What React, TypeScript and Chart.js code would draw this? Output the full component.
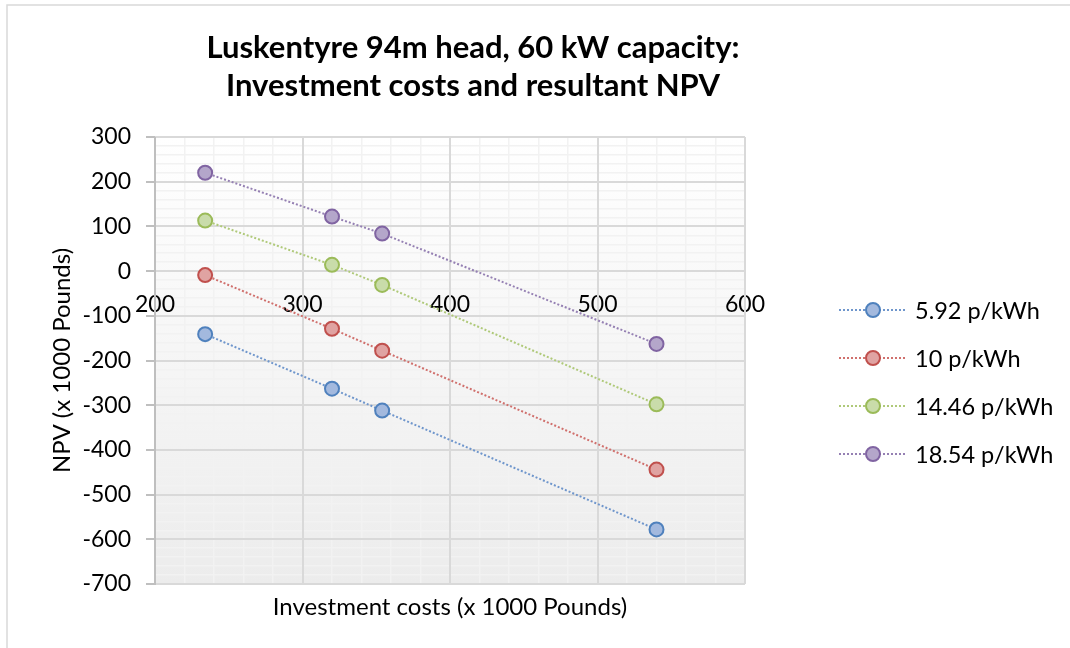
import React, { useEffect, useRef } from "react";
import { Chart, registerables } from "chart.js";

Chart.register(...registerables);

// ---- data ----
const investmentCosts = [234, 320, 354, 540];
const seriesNames = ["5.92 p/kWh", "10 p/kWh", "14.46 p/kWh", "18.54 p/kWh"];
const npv592 = [-141, -263, -312, -578];
const npv10 = [-9, -129, -178, -444];
const npv1446 = [113, 14, -31, -298];
const npv1854 = [220, 122, 84, -163];
const titleLines = ["Luskentyre 94m head, 60 kW capacity:", "Investment costs and resultant NPV"];
const xAxisTitle = "Investment costs (x 1000 Pounds)";
const yAxisTitle = "NPV (x 1000 Pounds)";
const xRange = [200, 600];
const yRange = [-700, 300];
const majorStep = 100;
const minorStep = 20;

const seriesValues = [npv592, npv10, npv1446, npv1854];
const borderColors = ["#4f81bd", "#c0504d", "#9bbb59", "#8064a2"];
const fillColors = ["#a3b9de", "#e0a3a2", "#c9dcaa", "#b4a6ca"];
const lineColors = ["#6f96cc", "#d0706d", "#afc979", "#9580b3"];

const FONT = "Lato, 'Open Sans', sans-serif";

const isMajor = (v: number) => Math.abs(Math.round(v)) % majorStep === 0;

const decorPlugin = {
  id: "decor",
  beforeDraw(chart: any) {
    const { ctx, chartArea, width, height } = chart;
    ctx.save();
    ctx.fillStyle = "#ffffff";
    ctx.fillRect(0, 0, width, height);
    const g = ctx.createLinearGradient(0, chartArea.top, 0, chartArea.bottom);
    g.addColorStop(0, "#ffffff");
    g.addColorStop(1, "#ececec");
    ctx.fillStyle = g;
    ctx.fillRect(chartArea.left, chartArea.top, chartArea.right - chartArea.left, chartArea.bottom - chartArea.top);
    ctx.strokeStyle = "#d9d9d9";
    ctx.lineWidth = 1.5;
    ctx.beginPath();
    ctx.moveTo(7, height);
    ctx.lineTo(7, 5);
    ctx.lineTo(width, 5);
    ctx.stroke();
    ctx.restore();
  },
  beforeDatasetsDraw(chart: any) {
    // redraw major gridlines above the minor ones
    const { ctx, chartArea, scales } = chart;
    ctx.save();
    ctx.strokeStyle = "#d9d9d9";
    ctx.lineWidth = 2;
    ctx.beginPath();
    for (let v = xRange[0]; v <= xRange[1]; v += majorStep) {
      const px = Math.round(scales.x.getPixelForValue(v));
      ctx.moveTo(px, chartArea.top);
      ctx.lineTo(px, chartArea.bottom);
    }
    for (let v = yRange[0]; v <= yRange[1]; v += majorStep) {
      const py = Math.round(scales.y.getPixelForValue(v));
      ctx.moveTo(chartArea.left, py);
      ctx.lineTo(chartArea.right, py);
    }
    ctx.stroke();
    ctx.strokeStyle = "#bfbfbf";
    ctx.beginPath();
    const lx = Math.round(scales.x.getPixelForValue(xRange[0]));
    ctx.moveTo(lx, chartArea.top);
    ctx.lineTo(lx, chartArea.bottom + 1);
    ctx.stroke();
    ctx.restore();
  },
  afterDraw(chart: any) {
    const { ctx, chartArea } = chart;
    ctx.save();
    // title
    ctx.fillStyle = "#000";
    ctx.font = `bold 31px ${FONT}`;
    ctx.textAlign = "center";
    ctx.textBaseline = "alphabetic";
    titleLines.forEach((t, i) => ctx.fillText(t, 473, 58 + i * 38));
    // legend
    const x0 = chartArea.right + 94;
    chart.data.datasets.forEach((ds: any, i: number) => {
      const y = chartArea.top + 173 + i * 48;
      ctx.strokeStyle = lineColors[i];
      ctx.lineWidth = 2;
      ctx.setLineDash([2, 2]);
      ctx.beginPath();
      ctx.moveTo(x0, y);
      ctx.lineTo(x0 + 68, y);
      ctx.stroke();
      ctx.setLineDash([]);
      ctx.beginPath();
      ctx.arc(x0 + 34, y, 7, 0, Math.PI * 2);
      ctx.fillStyle = fillColors[i];
      ctx.fill();
      ctx.strokeStyle = borderColors[i];
      ctx.lineWidth = 2;
      ctx.stroke();
      ctx.fillStyle = "#000";
      ctx.font = `23.5px ${FONT}`;
      ctx.textAlign = "left";
      ctx.textBaseline = "middle";
      ctx.fillText(ds.label, x0 + 76, y + 1);
    });
    ctx.restore();
  },
};

export default function App() {
  const ref = useRef<HTMLCanvasElement | null>(null);
  useEffect(() => {
    if (!ref.current) return;
    const datasets = seriesValues.map((vals, i) => ({
      label: seriesNames[i],
      data: investmentCosts.map((x, j) => ({ x, y: vals[j] })),
      showLine: true,
      borderColor: lineColors[i],
      borderWidth: 2,
      borderDash: [2, 2],
      pointRadius: 7,
      pointHoverRadius: 7,
      pointBackgroundColor: fillColors[i],
      pointBorderColor: borderColors[i],
      pointBorderWidth: 2,
      xAxisID: "x",
      yAxisID: "y",
    }));
    const chart = new Chart(ref.current, {
      type: "scatter",
      data: { datasets },
      plugins: [decorPlugin],
      options: {
        animation: false,
        responsive: false,
        layout: { padding: { left: 48, top: 137, right: 325, bottom: 0 } },
        plugins: { legend: { display: false }, title: { display: false }, tooltip: { enabled: false } },
        scales: {
          x: {
            type: "linear",
            position: { y: 0 } as any,
            min: xRange[0],
            max: xRange[1],
            ticks: {
              stepSize: minorStep,
              autoSkip: false,
              maxRotation: 0,
              minRotation: 0,
              padding: 20,
              color: "#000",
              font: { family: FONT, size: 23 },
              callback: (v: any) => (isMajor(Number(v)) ? String(Math.round(Number(v))) : ""),
            },
            grid: {
              drawTicks: false,
              color: "#f2f2f2",
              lineWidth: 1.5,
            },
            border: { display: false },
          },
          xb: {
            type: "linear",
            position: "bottom",
            min: xRange[0],
            max: xRange[1],
            ticks: { display: false },
            grid: { display: false },
            border: { display: false },
            title: {
              display: true,
              text: xAxisTitle,
              color: "#000",
              font: { family: FONT, size: 24 },
              padding: { top: 0, bottom: 26 },
            },
            afterFit: (s: any) => {
              s.height = 64;
            },
          },
          y: {
            type: "linear",
            position: "left",
            min: yRange[0],
            max: yRange[1],
            ticks: {
              stepSize: minorStep,
              autoSkip: false,
              padding: 15,
              color: "#000",
              font: { family: FONT, size: 23 },
              callback: (v: any) => (isMajor(Number(v)) ? String(Math.round(Number(v))) : ""),
            },
            grid: {
              tickLength: 9,
              color: "#f2f2f2",
              tickColor: (c: any) => (isMajor(c.tick.value) ? "#bfbfbf" : "rgba(0,0,0,0)"),
              lineWidth: (c: any) => (isMajor(c.tick.value) ? 2 : 1.5),
            },
            border: { display: true, color: "#bfbfbf", width: 2 },
            title: {
              display: true,
              text: yAxisTitle,
              color: "#000",
              font: { family: FONT, size: 24 },
              padding: { top: 0, bottom: 0 },
            },
            afterFit: (s: any) => {
              s.width = 107;
            },
          },
        },
      } as any,
    });
    return () => chart.destroy();
  }, []);
  return (
    <div style={{ position: "absolute", left: 0, top: 0, width: 1070, height: 648 }}>
      <canvas ref={ref} width={1070} height={648} style={{ display: "block" }} />
    </div>
  );
}
